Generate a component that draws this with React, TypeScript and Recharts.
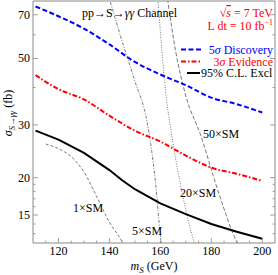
import React from 'react';
import { LineChart, Line, XAxis, YAxis, ReferenceArea } from 'recharts';

const FONT = '"Liberation Serif", "Times New Roman", Times, serif';
const AXIS = '#8a8a8a';
const SMC = '#555555';

// ---- tick values ----
const xMajor = [120, 140, 160, 180, 200];
const xTicks = [115, 120, 125, 130, 135, 140, 145, 150, 155, 160, 165, 170, 175, 180, 185, 190, 195, 200];
const yMajor = [15, 20, 30, 50, 70];
const yTicks = [13, 14, 15, 16, 17, 18, 19, 20, 30, 40, 50, 60, 70];

// ---- main curves ----
const massMain = [111, 120, 130, 140, 150, 160, 170, 180, 190, 200];
const discovery5 = [74.6, 69.2, 62.9, 55.7, 48.7, 44.2, 40.7, 37.0, 35.2, 33.0];
const evidence3 = [44.0, 39.5, 36.5, 32.2, 28.7, 26.4, 23.7, 21.6, 20.6, 19.5];
const massExcl = [111, 120, 130, 140, 145, 150, 160, 170, 180, 190, 200];
const exclusion95 = [28.7, 26.8, 24.2, 21.2, 19.6, 18.3, 16.4, 15.1, 14.0, 13.2, 12.5];

// ---- SM multiples ----
const mass1SM = [115, 120, 125, 130, 135, 140, 145, 147];
const sm1 = [25.9, 25.0, 23.5, 20.9, 17.3, 14.2, 12.2, 11.2];
const mass5SM = [138, 140.2, 145, 150, 155, 158, 160, 161.5];
const sm5 = [90, 78, 57, 42, 30, 19.6, 12.8, 10.0];
const mass20SM = [157.5, 159, 160.6, 162.5, 164.5, 168.4, 173.4, 175];
const sm20 = [95, 78, 52.9, 36.1, 27.6, 18.1, 12.1, 11.2];
const mass50SM = [161.5, 162.9, 166, 170, 175.9, 182.6, 190.3, 193];
const sm50 = [95, 78, 52.9, 37.5, 27.6, 18.1, 12.1, 11.2];

const X_DOMAIN: [number, number] = [110, 205];
const Y_DOMAIN: [number, number] = [12.1, 77.8];

const rows = (ms: number[], vs: number[]) => ms.map((m, i) => ({ m, v: vs[i] }));

const XTickBottom = (p: any) => {
  const { x, y, payload } = p;
  const major = xMajor.includes(payload.value);
  return (
    <g>
      <line x1={x} x2={x} y1={y} y2={y - (major ? 5 : 2.5)} stroke={AXIS} strokeWidth={0.8} />
      {major && (
        <text x={x} y={y + 12} textAnchor="middle" fontFamily={FONT} fontSize={12} fill="#000">
          {payload.value}
        </text>
      )}
    </g>
  );
};
const XTickTop = (p: any) => {
  const { x, y, payload } = p;
  const major = xMajor.includes(payload.value);
  return <line x1={x} x2={x} y1={y} y2={y + (major ? 5 : 2.5)} stroke={AXIS} strokeWidth={0.8} />;
};
const YTickLeft = (p: any) => {
  const { x, y, payload } = p;
  const major = yMajor.includes(payload.value);
  return (
    <g>
      <line x1={x} x2={x + (major ? 5 : 2.5)} y1={y} y2={y} stroke={AXIS} strokeWidth={0.8} />
      {major && (
        <text x={x - 3} y={y + 4} textAnchor="end" fontFamily={FONT} fontSize={12} fill="#000">
          {payload.value}
        </text>
      )}
    </g>
  );
};
const YTickRight = (p: any) => {
  const { x, y, payload } = p;
  const major = yMajor.includes(payload.value);
  return <line x1={x} x2={x - (major ? 5 : 2.5)} y1={y} y2={y} stroke={AXIS} strokeWidth={0.8} />;
};

export default function App() {
  return (
    <div style={{ position: 'absolute', left: 0, top: 0, width: 278, height: 275, background: '#fff' }}>
      <LineChart width={278} height={275} margin={{ top: 1, right: 0, bottom: 0, left: 0 }}>
        <XAxis xAxisId="b" type="number" dataKey="m" domain={X_DOMAIN} ticks={xTicks} interval={0}
          tick={XTickBottom} tickLine={false} axisLine={false} tickSize={0} tickMargin={0} height={32} allowDataOverflow />
        <XAxis xAxisId="t" orientation="top" type="number" dataKey="m" domain={X_DOMAIN} ticks={xTicks} interval={0}
          tick={XTickTop} tickLine={false} axisLine={false} tickSize={0} tickMargin={0} height={0} allowDataOverflow />
        <YAxis yAxisId="l" type="number" scale="log" domain={Y_DOMAIN} ticks={yTicks} interval={0}
          tick={YTickLeft} tickLine={false} axisLine={false} tickSize={0} tickMargin={0} width={33} allowDataOverflow />
        <YAxis yAxisId="r" orientation="right" type="number" scale="log" domain={Y_DOMAIN} ticks={yTicks} interval={0}
          tick={YTickRight} tickLine={false} axisLine={false} tickSize={0} tickMargin={0} width={3} allowDataOverflow />
        <ReferenceArea xAxisId="b" yAxisId="l" x1={X_DOMAIN[0]} x2={X_DOMAIN[1]} y1={Y_DOMAIN[0]} y2={Y_DOMAIN[1]}
          fill="none" fillOpacity={0} stroke={AXIS} strokeWidth={1} ifOverflow="visible" />

        <Line xAxisId="b" yAxisId="l" data={rows(mass1SM, sm1)} dataKey="v" type="monotone" stroke={SMC}
          strokeWidth={0.8} strokeDasharray="3 2" dot={false} isAnimationActive={false} />
        <Line xAxisId="b" yAxisId="l" data={rows(mass5SM, sm5)} dataKey="v" type="monotone" stroke={SMC}
          strokeWidth={0.8} strokeDasharray="3 1.5 1 1.5" dot={false} isAnimationActive={false} />
        <Line xAxisId="b" yAxisId="l" data={rows(mass20SM, sm20)} dataKey="v" type="monotone" stroke={SMC}
          strokeWidth={0.8} strokeDasharray="1 1.5" dot={false} isAnimationActive={false} />
        <Line xAxisId="b" yAxisId="l" data={rows(mass50SM, sm50)} dataKey="v" type="monotone" stroke={SMC}
          strokeWidth={0.8} strokeDasharray="4 2" dot={false} isAnimationActive={false} />

        <Line xAxisId="b" yAxisId="l" data={rows(massMain, discovery5)} dataKey="v" type="monotone" stroke="#0000ff"
          strokeWidth={2} strokeDasharray="5 2.5" dot={false} isAnimationActive={false} />
        <Line xAxisId="b" yAxisId="l" data={rows(massMain, evidence3)} dataKey="v" type="monotone" stroke="#ff0000"
          strokeWidth={2} strokeDasharray="5 2 1.5 2" dot={false} isAnimationActive={false} />
        <Line xAxisId="b" yAxisId="l" data={rows(massExcl, exclusion95)} dataKey="v" type="linear" stroke="#000"
          strokeWidth={2} dot={false} isAnimationActive={false} />
      </LineChart>

      <svg width={278} height={275} style={{ position: 'absolute', left: 0, top: 0, pointerEvents: 'none' }}
        fontFamily={FONT} fontSize={12}>
        <text x={82} y={17} fill="#000">
          <tspan>pp→S→</tspan><tspan fontStyle="italic">γγ</tspan><tspan> Channel</tspan>
        </text>
        <text x={273} y={17} textAnchor="end" fill="#ff0000">
          <tspan>√</tspan><tspan fontStyle="italic" textDecoration="overline">s</tspan><tspan> = 7 TeV</tspan>
        </text>
        <text x={273} y={29.5} textAnchor="end" fill="#ff0000">
          <tspan>L dt = 10 fb</tspan><tspan fontSize={8} dy={-4.5}>−1</tspan>
        </text>

        <line x1={181} x2={201} y1={49.5} y2={49.5} stroke="#0000ff" strokeWidth={2} strokeDasharray="5 2.5" />
        <text x={273} y={53.5} textAnchor="end" fill="#0000ff">
          <tspan>5</tspan><tspan fontStyle="italic">σ</tspan><tspan> Discovery</tspan>
        </text>
        <line x1={181} x2={201} y1={61.5} y2={61.5} stroke="#ff0000" strokeWidth={2} strokeDasharray="5 2 1.5 2" />
        <text x={273} y={65.5} textAnchor="end" fill="#ff0000">
          <tspan>3</tspan><tspan fontStyle="italic">σ</tspan><tspan> Evidence</tspan>
        </text>
        <line x1={187} x2={200} y1={73} y2={73} stroke="#000" strokeWidth={2} />
        <text x={201} y={77} fill="#000">95% C.L. Excl</text>

        <text x={73} y={211.5} fill="#000">1×SM</text>
        <text x={132} y={235} fill="#000">5×SM</text>
        <text x={180} y={196.5} fill="#000">20×SM</text>
        <text x={203} y={138} fill="#000">50×SM</text>

        <text x={154} y={270} textAnchor="middle" fill="#000">
          <tspan fontStyle="italic">m</tspan><tspan fontStyle="italic" fontSize={9} dy={3}>S</tspan><tspan dy={-3}> (GeV)</tspan>
        </text>
        <text transform="translate(12,113) rotate(-90)" textAnchor="middle" fill="#000" fontSize={12}>
          <tspan fontStyle="italic">σ</tspan><tspan fontSize={8.5} dy={3}><tspan fontStyle="italic">S</tspan>→<tspan fontStyle="italic">γγ</tspan></tspan><tspan dy={-3}> (fb)</tspan>
        </text>
      </svg>
    </div>
  );
}
